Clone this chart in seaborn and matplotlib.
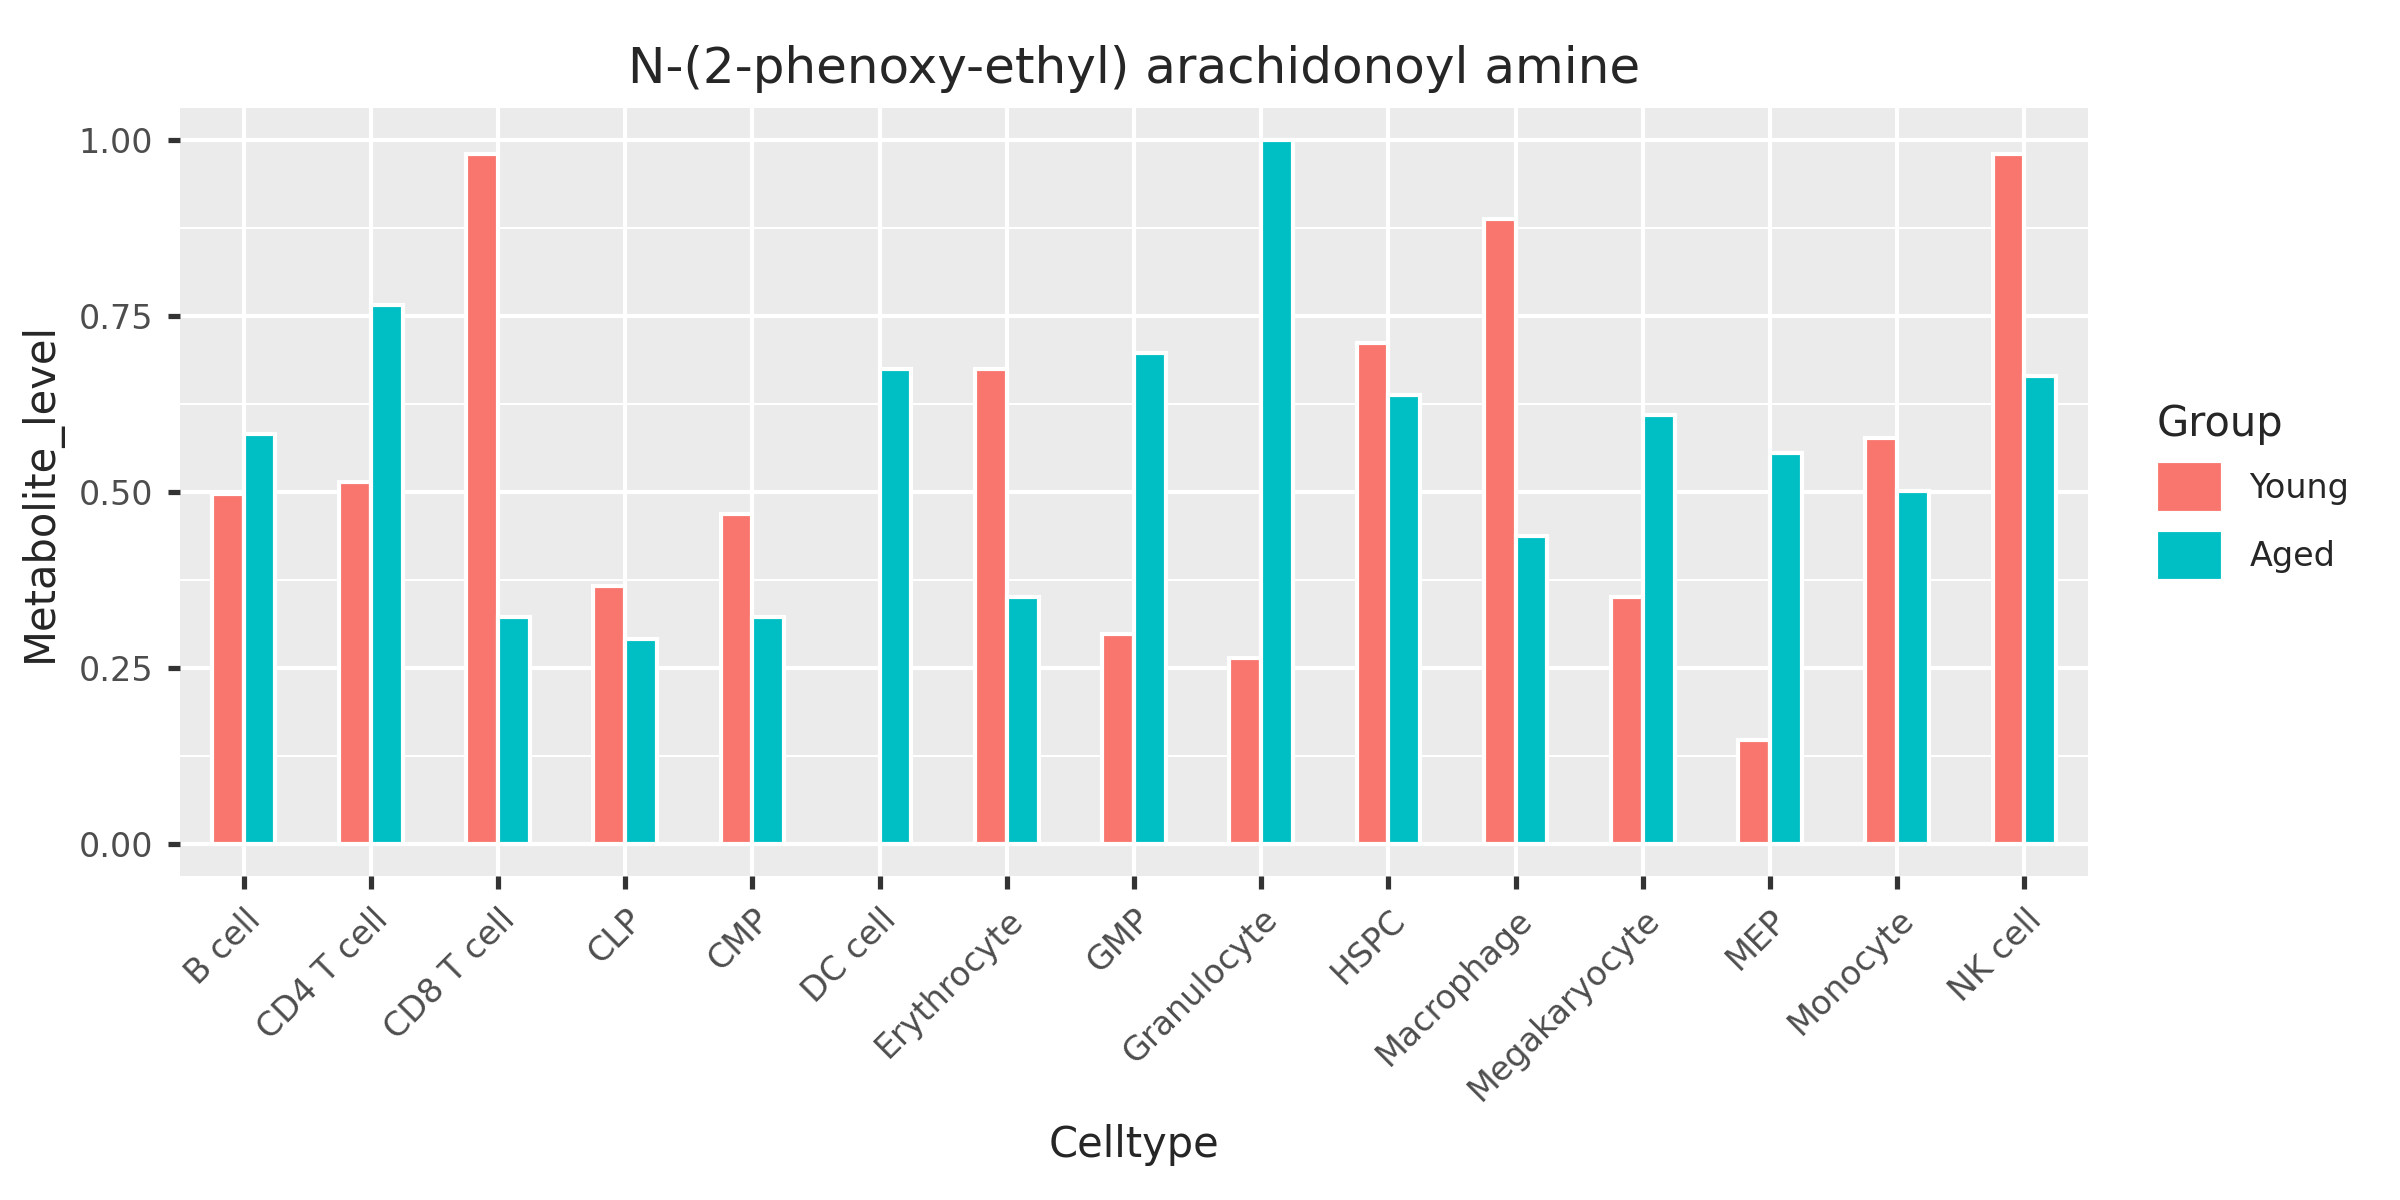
import matplotlib.pyplot as plt
import pandas as pd
import seaborn as sns

celltypes = ['B cell', 'CD4 T cell', 'CD8 T cell', 'CLP', 'CMP', 'DC cell', 'Erythrocyte',
             'GMP', 'Granulocyte', 'HSPC', 'Macrophage', 'Megakaryocyte', 'MEP', 'Monocyte', 'NK cell']
young = [0.497, 0.514, 0.980, 0.366, 0.469, 0.0, 0.675, 0.299, 0.265, 0.712, 0.888, 0.351, 0.148, 0.576, 0.980]
aged = [0.583, 0.766, 0.323, 0.292, 0.323, 0.675, 0.351, 0.697, 1.000, 0.637, 0.437, 0.609, 0.555, 0.501, 0.665]

df = pd.DataFrame({
    'Celltype': celltypes * 2,
    'Metabolite_level': young + aged,
    'Group': ['Young'] * len(celltypes) + ['Aged'] * len(celltypes),
})

sns.set_theme(style='darkgrid', rc={'axes.facecolor': '#EBEBEB', 'grid.color': 'white'})
plt.rcParams['font.family'] = ['DejaVu Sans']

fig, ax = plt.subplots(figsize=(8, 4), dpi=300)
sns.barplot(data=df, x='Celltype', y='Metabolite_level', hue='Group',
            palette=['#F8766D', '#00BFC4'], width=0.5, ax=ax, saturation=1)
ax.set_ylim(-0.045, 1.045)
ax.set_yticks([0, 0.25, 0.5, 0.75, 1.0])
ax.set_yticklabels(['0.00', '0.25', '0.50', '0.75', '1.00'])
ax.set_yticks([0.125, 0.375, 0.625, 0.875], minor=True)
ax.grid(which='minor', axis='y', color='white', linewidth=0.5)
ax.grid(which='major', color='white', linewidth=1.0)
ax.tick_params(axis='both', which='major', length=3, color='#333333', labelsize=8, labelcolor='#4D4D4D')
ax.tick_params(axis='both', which='major', bottom=True, left=True)
plt.setp(ax.get_xticklabels(), rotation=45, ha='right', rotation_mode='anchor')
for s in ax.spines.values():
    s.set_visible(False)
ax.set_xlabel('Celltype', fontsize=10)
ax.set_ylabel('Metabolite_level', fontsize=10)
ax.set_title('N-(2-phenoxy-ethyl) arachidonoyl amine', fontsize=12)
leg = ax.legend(title='Group', loc='center left', bbox_to_anchor=(1.02, 0.5), frameon=False,
                fontsize=8, title_fontsize=10, handlelength=2, handleheight=2)
leg._legend_box.align = 'left'
fig.subplots_adjust(left=0.075, right=0.87, top=0.91, bottom=0.27)
fig.savefig('out.png', dpi=300)
